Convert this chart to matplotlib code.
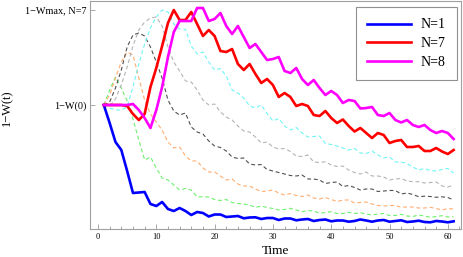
import matplotlib
matplotlib.use("Agg")
import matplotlib.pyplot as plt
from matplotlib.ticker import MultipleLocator

plt.rcParams['font.family'] = ['Liberation Serif', 'DejaVu Serif']

time = list(range(1, 62))

n1 = [124, 106, 87, 79, 58, 36, 36.5, 37, 25, 23,
      27, 20, 18, 21, 18, 14, 17, 16, 12.5, 14.5,
      14.5, 12, 12.5, 13, 10.7, 11.5, 11.7, 10, 11, 11,
      9, 10.5, 10.5, 8.7, 9.5, 10, 8, 9, 9.5, 7.7,
      8.5, 8.5, 7.3, 8, 9.5, 8.5, 7.3, 8.5, 9, 7.3,
      8, 8.7, 7, 7.5, 8.3, 7, 6.7, 8, 7.5, 6.7,
      7.7]
n2 = [124, 139, 152, 141, 128, 110, 89, 69, 72, 61,
      51, 49, 44, 39, 40.5, 39, 32, 32.3, 32, 29.5,
      28.5, 29.5, 26.5, 25.5, 25, 24, 21.5, 23, 21.5, 20.5,
      19, 19.5, 20.7, 19, 17.3, 18.5, 18, 15.7, 16.5, 17.3,
      15.5, 15.5, 16.7, 15.5, 16.3, 15, 14, 15, 15.5, 13.5,
      13.5, 14.7, 13, 12.5, 14, 13, 11.7, 12.5, 13.3, 12,
      12.3]
n3 = [124, 134, 151, 167, 177, 174, 151, 129, 115, 107,
      99, 87, 81, 82, 73, 68, 68, 61, 57, 57,
      53, 49, 50, 45, 43, 43, 40, 37.5, 38, 39,
      36, 34, 35.5, 33.5, 32.5, 34, 31, 30, 31.5, 29.5,
      27.5, 29, 29, 26, 26.5, 27, 25, 23.5, 23, 23.5,
      23.5, 21.7, 22, 22, 21, 21, 21.7, 20.5, 19, 20.5,
      20]
n4 = [124, 127, 141, 159, 182, 194, 196, 193, 182, 167,
      151, 129, 118, 114, 116, 102, 97, 95, 88, 83,
      81.5, 78, 72, 70.5, 71, 65, 64, 64.5, 59.5, 58,
      56.5, 55, 53.5, 53, 54, 50, 50, 49, 45.5, 46.5,
      47, 42.5, 43.5, 41.5, 39, 40, 40, 37.5, 38, 38.5,
      38.5, 35, 36, 34.5, 32.3, 32.8, 32.5, 31.7, 32.2, 31.5,
      29]
n5 = [124, 123, 130, 144, 162, 183, 199, 207, 211, 212,
      203, 182, 167, 158, 148, 147, 139, 129, 124, 125,
      117, 112, 109, 103, 98, 97, 92, 86, 87, 82,
      80, 80.5, 77.5, 73, 72.5, 74, 67, 66.5, 67.3, 64,
      62.5, 63, 59, 56.5, 55, 57, 53, 53, 52, 49,
      50, 50.5, 48, 47.3, 47.3, 46, 46.5, 47, 43, 42,
      44]
n6 = [124, 121, 119, 119, 122, 142, 165, 185, 201, 212,
      219, 217, 205, 200, 199.7, 183, 175, 177, 167, 159,
      160.5, 153, 139, 136, 131, 123, 121, 124, 115.5, 108,
      110.5, 103, 99, 101.5, 96, 92, 92.5, 93, 85.5, 84.5,
      83, 81, 79, 80.5, 76, 75.5, 78, 74, 71, 72,
      67, 67, 65.5, 62, 59, 60.5, 58.5, 58, 59.5, 60.5,
      56]
n7 = [124, 124, 124, 124, 123, 115, 109, 115, 142, 161,
      183, 206, 219, 209, 209, 217, 205, 193, 199, 193,
      178, 177, 180, 165, 159, 165, 155, 146, 150, 144,
      132, 136, 132, 123, 125, 123, 114, 113, 118, 111,
      106, 109.5, 103, 97.5, 101, 96, 91, 96, 94, 86,
      88, 89, 82, 82, 83, 78, 78, 81, 77.5, 75,
      79]
n8 = [124, 124, 124, 124, 124, 125, 119, 111, 101, 119,
      142, 172, 197, 208, 208, 208, 221, 221, 208, 210,
      216, 203, 195, 203, 192, 181, 185, 177, 169, 170,
      172, 158, 156, 161, 150, 144, 149, 141, 134, 138,
      134, 126, 129, 128, 120.5, 121, 122, 114, 113, 116,
      109, 106.5, 109, 104, 102, 104, 99, 96, 98, 96,
      90]

ytick_labels = ['1\u2212W(0)', '1\u2212Wmax, N=7']
xticks = [0, 10, 20, 30, 40, 50, 60]

fig = plt.figure(figsize=(4.63, 2.57), dpi=100)
ax = fig.add_axes([90 / 463, 1 - 229 / 257, 371 / 463, 228 / 257])

dash = (0, (3.5, 2.5))
ax.plot(time, n2, color='#6cf06c', lw=0.8, linestyle=dash)
ax.plot(time, n3, color='#ffad70', lw=0.8, linestyle=dash)
ax.plot(time, n4, color='#505050', lw=0.8, linestyle=dash)
ax.plot(time, n5, color='#b4b4b4', lw=0.8, linestyle=dash)
ax.plot(time, n6, color='#6ef5f5', lw=0.8, linestyle=dash)
ax.plot(time, n1, color='#0000ff', lw=1.9, label='N=1')
ax.plot(time, n7, color='#ff0000', lw=1.9, label='N=7')
ax.plot(time, n8, color='#ff00ff', lw=1.9, label='N=8')

ax.set_xlim(-1.37, 62.26)
ax.set_ylim(0, 228)

ax.set_xticks(xticks)
ax.xaxis.set_minor_locator(MultipleLocator(2))
ax.set_yticks([n1[0], max(n7)])
ax.set_yticklabels(ytick_labels)
ax.tick_params(axis='x', which='both', direction='in', color='#999999',
               labelsize=6, pad=3, top=False)
ax.tick_params(axis='x', which='major', length=3.5, width=0.6)
ax.tick_params(axis='x', which='minor', length=2.2, width=0.6)
ax.tick_params(axis='y', direction='in', color='#999999', length=3.5,
               width=0.6, labelsize=7.4, pad=2.5, right=False)
for sp in ax.spines.values():
    sp.set_color('#a0a0a0')
    sp.set_linewidth(0.8)

ax.set_xlabel('Time', fontsize=9.5, labelpad=3)
fig.text(7 / 463, 1 - 108 / 257, '1\u2212W(t)', rotation=90,
         ha='center', va='center', fontsize=9)

leg = ax.legend(loc='upper right', bbox_to_anchor=(0.988, 0.972),
                borderaxespad=0, fontsize=10, handlelength=3.2,
                handletextpad=0.65, labelspacing=0.42, borderpad=0.8,
                fancybox=False, framealpha=1, edgecolor='#909090')
leg.get_frame().set_linewidth(0.8)

fig.savefig('out.png', dpi=100)
